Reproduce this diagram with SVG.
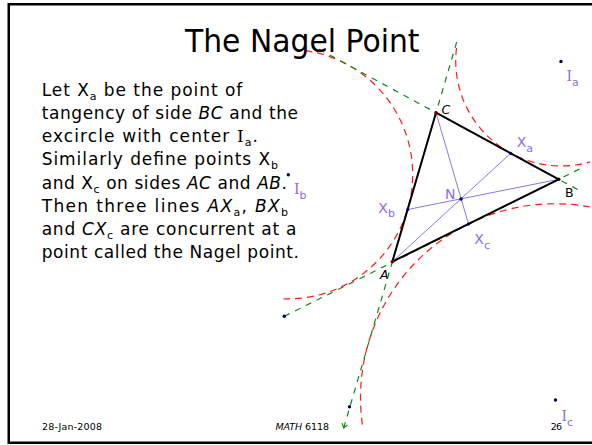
<svg xmlns="http://www.w3.org/2000/svg" width="592" height="445" viewBox="0 0 592 445">
<style>
.t{font-family:"Comic Sans MS","DejaVu Sans",sans-serif;fill:#000}
.body{font-size:17px}
.sub{font-size:11px}
.ser{font-family:"DejaVu Serif","Liberation Serif",serif}
.it{font-style:italic}
.lab{font-family:"Comic Sans MS","DejaVu Sans",sans-serif;font-size:14px;fill:#8c6ee0}
.vlab{font-family:"Comic Sans MS","DejaVu Sans",sans-serif;font-size:12.5px;fill:#000}
.foot{font-family:"Comic Sans MS","DejaVu Sans",sans-serif;font-size:9.5px;fill:#000}
.red{fill:none;stroke:#ff1a1a;stroke-width:1.2;stroke-dasharray:7 5}
.grn{fill:none;stroke:#12881a;stroke-width:1.2;stroke-dasharray:6 6}
.cev{stroke:#9077e0;stroke-width:1;fill:none}
.side{fill:none;stroke:#000;stroke-width:2;stroke-linejoin:round}
.pt{fill:#00005a}
.vpt{fill:#7a0000}
</style>
<rect x="8.75" y="4.25" width="600" height="438.5" fill="#fff" stroke="#000" stroke-width="2.5"/>

<g id="connectors">
  <path class="red" d="M456.5,48 A105.2,105.2 0 0 0 589.9,161.9"/>
  <path class="red" d="M305.4,50.7 A124.7,124.7 0 0 1 283.6,298.8"/>
  <path class="red" d="M590,207 A194.1,194.1 0 0 0 362.7,426.9"/>
  <line class="grn" x1="319.1" y1="49.3" x2="581.6" y2="191.7"/>
  <line class="grn" x1="284.3" y1="316.3" x2="581.1" y2="168.2"/>
  <line class="grn" x1="343.7" y1="428" x2="457.1" y2="40.7"/>
  <path d="M347.6,424.9 L343.7,428 L342.1,423.3" fill="none" stroke="#12881a" stroke-width="1.2"/>
  <line class="cev" x1="392.3" y1="261.7" x2="510.7" y2="153.3"/>
  <line class="cev" x1="558.7" y1="179.3" x2="407.7" y2="209.5"/>
  <line class="cev" x1="436" y1="112.7" x2="468.5" y2="224"/>
  <polygon class="side" points="392.3,261.7 558.7,179.3 436,112.7"/>
</g>

<g id="title"><text class="t" x="185" y="51.5" font-size="32" textLength="234.5" lengthAdjust="spacingAndGlyphs">The Nagel Point</text></g>

<g id="body" class="t body">
  <text x="41.7" y="96" textLength="200.6">Let X<tspan class="sub" dy="4">a</tspan><tspan dy="-4"> be the point of</tspan></text>
  <text x="41.7" y="119.1" textLength="256.3">tangency of side <tspan class="it">BC</tspan> and the</text>
  <text x="41.7" y="142.3" textLength="216.3">excircle with center <tspan class="ser">I</tspan><tspan class="sub" dy="4">a</tspan><tspan dy="-4">.</tspan></text>
  <text x="41.7" y="165.4" textLength="236.3">Similarly define points X<tspan class="sub" dy="4">b</tspan></text>
  <text x="41.7" y="188.6" textLength="245.3">and X<tspan class="sub" dy="4">c</tspan><tspan dy="-4"> on sides </tspan><tspan class="it">AC</tspan> and <tspan class="it">AB</tspan>.</text>
  <text x="41.7" y="211.7" textLength="246.3">Then three lines <tspan class="it">AX</tspan><tspan class="sub" dy="4">a</tspan><tspan dy="-4">, </tspan><tspan class="it">BX</tspan><tspan class="sub" dy="4">b</tspan></text>
  <text x="41.7" y="234.9" textLength="254.8">and <tspan class="it">CX</tspan><tspan class="sub" dy="4">c</tspan><tspan dy="-4"> are concurrent at a</tspan></text>
  <text x="41.7" y="258" textLength="257.3">point called the Nagel point.</text>
</g>

<g id="vertex-A"><circle class="vpt" cx="392.3" cy="261.7" r="1.8"/><text class="vlab it" x="380" y="278.5">A</text></g>
<g id="vertex-B"><circle cx="558.7" cy="179.3" r="1.8" fill="#000"/><text class="vlab" x="565" y="196.5">B</text></g>
<g id="vertex-C"><circle class="vpt" cx="436" cy="112.7" r="1.8"/><text class="vlab it" x="441.5" y="113.5">C</text></g>
<g id="point-N"><circle class="pt" cx="461" cy="199" r="1.7"/><text class="lab" x="445" y="199">N</text></g>
<g id="point-Xa"><circle class="pt" cx="510.7" cy="153.3" r="1.6"/><text class="lab" x="516.7" y="147.3">X<tspan class="sub" dy="5">a</tspan></text></g>
<g id="point-Xb"><circle class="pt" cx="407.7" cy="209.5" r="1.6"/><text class="lab" x="378.3" y="212.7">X<tspan class="sub" dy="4.5">b</tspan></text></g>
<g id="point-Xc"><circle class="pt" cx="468.5" cy="224" r="1.6"/><text class="lab" x="474.3" y="244">X<tspan class="sub" dy="5">c</tspan></text></g>
<g id="center-Ia"><circle class="pt" cx="561" cy="61.5" r="1.7"/><text class="lab" x="566.5" y="80.7"><tspan class="ser">I</tspan><tspan class="sub" dy="5">a</tspan></text></g>
<g id="center-Ib"><circle class="pt" cx="288.3" cy="174.8" r="1.7"/><text class="lab" x="294" y="194"><tspan class="ser">I</tspan><tspan class="sub" dy="5">b</tspan></text></g>
<g id="center-Ic"><circle class="pt" cx="555.5" cy="400" r="1.7"/><text class="lab" x="561.5" y="420.7"><tspan class="ser">I</tspan><tspan class="sub" dy="5">c</tspan></text></g>
<g id="point-P1"><circle class="pt" cx="284.3" cy="316.3" r="1.7"/></g>
<g id="point-P2"><circle class="pt" cx="349.5" cy="406.7" r="1.7"/></g>

<g id="footer">
  <text class="foot" x="42" y="430" textLength="60">28-Jan-2008</text>
  <text class="foot" x="275.5" y="430" textLength="53.5"><tspan class="it">MATH</tspan> 6118</text>
  <text class="foot" x="550.7" y="430" textLength="11.3">26</text>
</g>
</svg>
